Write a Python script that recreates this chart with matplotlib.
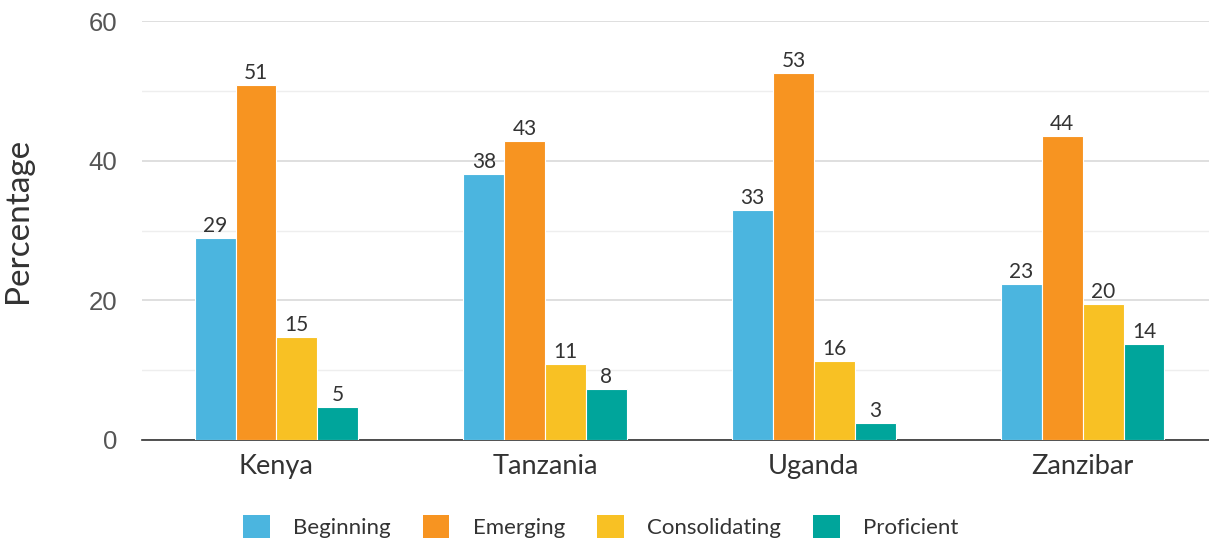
import matplotlib
matplotlib.use('Agg')
import matplotlib.pyplot as plt
from matplotlib.patches import Patch
import numpy as np

countries = ['Kenya', 'Tanzania', 'Uganda', 'Zanzibar']
levels = ['Beginning', 'Emerging', 'Consolidating', 'Proficient']
# bar heights as drawn
beginning = [28.9, 38.1, 32.9, 22.3]
emerging = [50.9, 42.8, 52.6, 43.5]
consolidating = [14.8, 10.9, 11.3, 19.5]
proficient = [4.7, 7.3, 2.4, 13.8]
# labels as printed on the chart
beginning_lbl = ['29', '38', '33', '23']
emerging_lbl = ['51', '43', '53', '44']
consolidating_lbl = ['15', '11', '16', '20']
proficient_lbl = ['5', '8', '3', '14']

colors = ['#4BB5DF', '#F79421', '#F8C124', '#00A59B']
series = [beginning, emerging, consolidating, proficient]
labels = [beginning_lbl, emerging_lbl, consolidating_lbl, proficient_lbl]

fig = plt.figure(figsize=(12.09, 5.41), dpi=100)
ax = fig.add_axes([0.1175, 0.1867, 0.8825, 0.7743])

x = np.arange(len(countries))
w = 0.152
for i in range(4):
    xs = x + (i - 1.5) * w
    bars = ax.bar(xs, series[i], w, color=colors[i], edgecolor='white', linewidth=0.8, zorder=3)
    for b, t in zip(bars, labels[i]):
        ax.text(b.get_x() + b.get_width() / 2, b.get_height() + 0.3, t, ha='center', va='bottom',
                fontsize=15, color='#333333', family='Lato')

ax.set_xlim(-0.5, 3.47)
ax.set_ylim(0, 60)
ax.set_yticks([0, 20, 40, 60])
ax.set_yticks([10, 30, 50], minor=True)
ax.grid(axis='y', which='major', color='#D9D9D9', linewidth=1.2, zorder=0)
ax.grid(axis='y', which='minor', color='#EEEEEE', linewidth=1.0, zorder=0)
ax.tick_params(axis='y', which='both', length=0, labelsize=18.5, labelcolor='#555555', pad=18)
for lab in ax.get_yticklabels():
    lab.set_family('Liberation Sans')
ax.set_xticks(x)
ax.set_xticklabels(countries, fontsize=19.5, color='#333333', family='Lato')
ax.tick_params(axis='x', length=0, pad=10)
for s in ['top', 'right', 'left']:
    ax.spines[s].set_visible(False)
ax.spines['bottom'].set_color('#333333')
ax.spines['bottom'].set_linewidth(1.2)
ax.set_ylabel('Percentage', fontsize=24, color='#333333', family='Lato')
ax.yaxis.set_label_coords(-0.102, 0.525)

handles = [Patch(facecolor=c, label=l) for c, l in zip(colors, levels)]
leg = fig.legend(handles=handles, loc='center', bbox_to_anchor=(0.497, 0.027), ncol=4, frameon=False,
                 prop={'family': 'Lato', 'size': 16}, handlelength=1.2, handleheight=1.2,
                 handletextpad=1.05, columnspacing=1.45)
for t in leg.get_texts():
    t.set_color('#333333')

fig.savefig('out.png', dpi=100)
